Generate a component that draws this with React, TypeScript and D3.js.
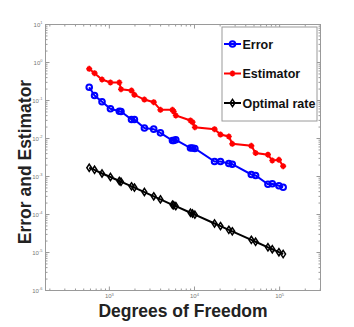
import React from "react";
import * as d3 from "d3";

// degrees of freedom for each refinement step
const dofs = [
  580, 670, 820, 1030, 1310, 1370, 1820, 1970, 2580, 3320, 3980, 5510, 5700,
  6030, 8970, 9470, 10100, 17200, 20200, 25300, 27800, 46500, 52200, 72900,
  82000, 98100, 110000,
];

const errorVals = [
  0.224, 0.1355, 0.0925, 0.0605, 0.052, 0.0514, 0.0316, 0.0316, 0.0189,
  0.0176, 0.0141, 0.00886, 0.00886, 0.00925, 0.00562, 0.00562, 0.00546,
  0.00248, 0.00248, 0.0022, 0.00211, 0.00113, 0.00106, 0.000627, 0.000643,
  0.000569, 0.000522,
];

const estimatorVals = [
  0.682, 0.523, 0.357, 0.298, 0.298, 0.198, 0.183, 0.141, 0.106, 0.0902,
  0.0569, 0.0569, 0.0514, 0.0403, 0.0298, 0.0269, 0.0198, 0.0176, 0.0127,
  0.0113, 0.00726, 0.00643, 0.00415, 0.00375, 0.00264, 0.00275, 0.00187,
];

const optimalVals = [
  1.7e-3, 1.5e-3, 1.2e-3, 9.7e-4, 7.6e-4, 7.3e-4, 5.5e-4, 5.1e-4, 3.9e-4,
  3.0e-4, 2.5e-4, 1.8e-4, 1.75e-4, 1.66e-4, 1.11e-4, 1.06e-4, 9.9e-5, 5.8e-5,
  4.95e-5, 3.95e-5, 3.6e-5, 2.15e-5, 1.92e-5, 1.37e-5, 1.22e-5, 1.02e-5,
  9.1e-6,
];

const seriesNames = ["Error", "Estimator", "Optimal rate"];
const xTickExps = [3, 4, 5];
const yTickExps = [1, 0, -1, -2, -3, -4, -5, -6];

const W = 354;
const H = 327;
const left = 45.5;
const right = 320.5;
const top = 24.5;
const bottom = 290.5;
const axisColor = "#9a9a9a";
const font = "'Liberation Sans', Arial, Helvetica, sans-serif";

const Marker = ({ kind, x, y, color }: any) => {
  if (kind === "circle")
    return <circle cx={x} cy={y} r={2.8} fill="none" stroke={color} strokeWidth={2} />;
  if (kind === "star")
    return (
      <path
        d={`M${x - 3},${y}H${x + 3}M${x},${y - 3}V${y + 3}M${x - 2},${y - 2}L${x + 2},${y + 2}M${x - 2},${y + 2}L${x + 2},${y - 2}`}
        stroke={color}
        strokeWidth={1.7}
      />
    );
  return (
    <path
      d={`M${x},${y - 3.6}L${x + 2.4},${y}L${x},${y + 3.6}L${x - 2.4},${y}Z`}
      fill="none"
      stroke={color}
      strokeWidth={1.5}
    />
  );
};

export default function App() {
  const x = d3.scaleLog().domain([Math.pow(10, 2.25), Math.pow(10, 5.48)]).range([left, right]);
  const y = d3.scaleLog().domain([1e-6, 10]).range([bottom, top]);

  const series = [
    { name: seriesNames[0], vals: errorVals, color: "#0000ff", kind: "circle" },
    { name: seriesNames[1], vals: estimatorVals, color: "#ff0000", kind: "star" },
    { name: seriesNames[2], vals: optimalVals, color: "#000000", kind: "diamond" },
  ];

  const line = d3
    .line<number>()
    .x((_, i) => x(dofs[i]))
    .y((d) => y(d));

  // minor ticks
  const xMinor: number[] = [];
  for (let e = 2; e <= 5; e++)
    for (let m = 2; m <= 9; m++) {
      const v = m * Math.pow(10, e);
      if (v >= x.domain()[0] && v <= x.domain()[1]) xMinor.push(v);
    }
  const yMinor: number[] = [];
  for (let e = -6; e < 1; e++)
    for (let m = 2; m <= 9; m++) yMinor.push(m * Math.pow(10, e));

  return (
    <svg width={W} height={H} style={{ display: "block", position: "absolute", left: 0, top: 0 }}>
      <rect width={W} height={H} fill="#fff" />
      {/* axis frame */}
      <rect x={left} y={top} width={right - left} height={bottom - top} fill="none" stroke={axisColor} strokeWidth={1} />

      {/* x ticks, bottom and top */}
      {xMinor.map((v, i) => (
        <g key={"xm" + i} stroke={axisColor}>
          <line x1={x(v)} x2={x(v)} y1={bottom} y2={bottom - 2} />
          <line x1={x(v)} x2={x(v)} y1={top} y2={top + 2} />
        </g>
      ))}
      {xTickExps.map((e) => (
        <g key={"xt" + e}>
          <line x1={x(Math.pow(10, e))} x2={x(Math.pow(10, e))} y1={bottom} y2={bottom - 4} stroke={axisColor} />
          <line x1={x(Math.pow(10, e))} x2={x(Math.pow(10, e))} y1={top} y2={top + 4} stroke={axisColor} />
          <text x={x(Math.pow(10, e))} y={298} fontFamily={font} fontSize={6} fill="#777" textAnchor="middle">
            10<tspan dy={-2.5} fontSize={4}>{e}</tspan>
          </text>
        </g>
      ))}

      {/* y ticks, left and right */}
      {yMinor.map((v, i) => (
        <g key={"ym" + i} stroke={axisColor}>
          <line x1={left} x2={left + 2} y1={y(v)} y2={y(v)} />
          <line x1={right} x2={right - 2} y1={y(v)} y2={y(v)} />
        </g>
      ))}
      {yTickExps.map((e) => (
        <g key={"yt" + e}>
          <line x1={left} x2={left + 4} y1={y(Math.pow(10, e))} y2={y(Math.pow(10, e))} stroke={axisColor} />
          <line x1={right} x2={right - 4} y1={y(Math.pow(10, e))} y2={y(Math.pow(10, e))} stroke={axisColor} />
          <text x={left - 3} y={y(Math.pow(10, e)) + 2} fontFamily={font} fontSize={6} fill="#777" textAnchor="end">
            10<tspan dy={-2.5} fontSize={4}>{e}</tspan>
          </text>
        </g>
      ))}

      {/* series */}
      {series.map((s) => (
        <g key={s.name}>
          <path d={line(s.vals) || ""} fill="none" stroke={s.color} strokeWidth={2} />
          {s.vals.map((v, i) => (
            <Marker key={i} kind={s.kind} x={x(dofs[i])} y={y(v)} color={s.color} />
          ))}
        </g>
      ))}

      {/* legend */}
      <rect x={222} y={27} width={95} height={94} fill="#fff" stroke={axisColor} strokeWidth={1} />
      {series.map((s, i) => {
        const ly = 44 + i * 29.5;
        return (
          <g key={"lg" + s.name}>
            <line x1={224} x2={241} y1={ly} y2={ly} stroke={s.color} strokeWidth={2} />
            <Marker kind={s.kind} x={232.5} y={ly} color={s.color} />
            <text x={242.5} y={ly + 4.5} fontFamily={font} fontWeight="bold" fontSize={12.5} fill="#111">
              {s.name}
            </text>
          </g>
        );
      })}

      {/* axis titles */}
      <text x={183} y={317} textAnchor="middle" fontFamily={font} fontWeight="bold" fontSize={17.5} fill="#222">
        Degrees of Freedom
      </text>
      <text
        transform="translate(31,162) rotate(-90)"
        textAnchor="middle"
        fontFamily={font}
        fontWeight="bold"
        fontSize={17.5}
        fill="#222"
      >
        Error and Estimator
      </text>
    </svg>
  );
}
